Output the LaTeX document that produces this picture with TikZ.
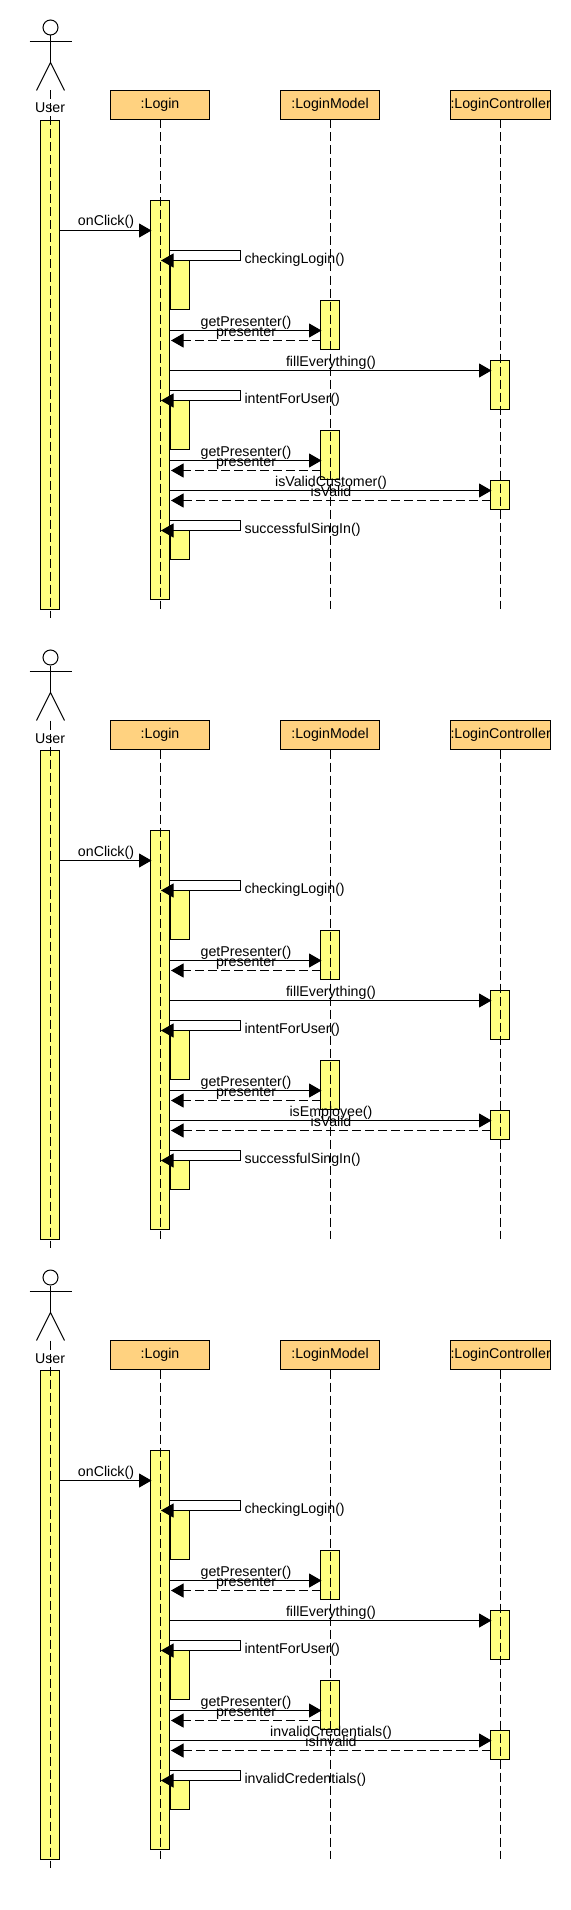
\documentclass[tikz,border=0pt]{standalone}
\usepackage{fontspec}
\setmainfont{Liberation Sans}
\usepackage{xcolor}
\usetikzlibrary{arrows.meta,positioning}
\definecolor{barfill}{HTML}{FFFF80}
\definecolor{headfill}{HTML}{FFD280}

\begin{document}
\begin{tikzpicture}[
  x=1pt, y=-1pt,
  font=\fontsize{14.2}{14.2}\selectfont,
  line width=1pt,
  headbox/.style={draw, fill=headfill, inner sep=0pt, outer sep=0pt,
                  minimum width=99pt, minimum height=29pt},
  bar/.style={draw, fill=barfill, inner sep=0pt, outer sep=0pt, minimum width=19pt},
  actorhead/.style={draw, circle, inner sep=0pt, minimum size=15pt},
  lifeline/.style={dash pattern=on 9pt off 4pt},
  msg/.style={-{Triangle[length=12.5pt,width=14pt]}, shorten >=-1pt},
  reply/.style={msg, dash pattern=on 9pt off 4pt, shorten >=1.5pt},
  msgtext/.style={midway, anchor=base, xshift=1pt, yshift=4.5pt, inner sep=0pt},
  selftext/.style={at end, anchor=base west, xshift=3.5pt, yshift=-12.5pt, inner sep=0pt},
  node distance=71pt
]
\useasboundingbox (0,0) rectangle (570,1910);

\foreach \d/\off/\askmsg/\replymsg/\lastmsg in {
    a/0/isValidCustomer()/isValid/successfulSingIn(),
    b/630/isEmployee()/isValid/successfulSingIn(),
    c/1250/invalidCredentials()/isInvalid/invalidCredentials()} {
\begin{scope}[shift={(0,\off)}]
% message levels
\foreach \n/\lvl in {click/230.5, getA/330.5, backA/340.5, fill/370.5,
                     getB/460.5, backB/470.5, ask/490.5, ans/500.5,
                     selfA/250.5, selfB/390.5, selfC/520.5}
  \coordinate (\d\n) at (0,\lvl);

% actor
\node[actorhead] (\d head) at (50.5,27.5) {};
\coordinate (\d hip) at (50.5,62.5);
\coordinate (\d armL) at (29.5,41.5);
\coordinate (\d armR) at (71.5,41.5);
\coordinate (\d footL) at (36.5,90.5);
\coordinate (\d footR) at (64.5,90.5);
\draw (\d head) -- (\d hip);
\draw (\d armL) -- (\d armR);
\draw (\d footL) -- (\d hip) -- (\d footR);
\node[anchor=base, inner sep=0pt] (\d user) at (50,113) {User};

% heads
\node[headbox] (\d login) at (160,105) {:Login};
\node[headbox, right=of \d login] (\d model) {:LoginModel};
\node[headbox, right=of \d model] (\d ctrl) {:LoginController};

% activation bars
\node[bar, minimum height=489pt] (\d userbar) at (50,365) {};
\node[bar, minimum height=399pt] (\d loginbar) at (160,400) {};
\node[bar, minimum height=49pt] (\d selfbarA) at (180,285) {};
\node[bar, minimum height=49pt] (\d selfbarB) at (180,425) {};
\node[bar, minimum height=29pt] (\d selfbarC) at (180,545) {};
\node[bar, minimum height=49pt] (\d modelbarA) at (330,325) {};
\node[bar, minimum height=49pt] (\d modelbarB) at (330,455) {};
\node[bar, minimum height=49pt] (\d ctrlbarA) at (500,385) {};
\node[bar, minimum height=29pt] (\d ctrlbarB) at (500,495) {};

% lifelines
\coordinate (\d userstart) at (50.5,90.5);
\coordinate (\d userend) at (50.5,618);
\coordinate (\d loginend) at (160.5,609);
\coordinate (\d modelend) at (330.5,609);
\coordinate (\d ctrlend) at (500.5,609);
\draw[lifeline] (\d userstart) -- (\d userend);
\draw[lifeline] (\d login.south -| \d loginend) -- (\d loginend);
\draw[lifeline] (\d model.south -| \d modelend) -- (\d modelend);
\draw[lifeline] (\d ctrl.south -| \d ctrlend) -- (\d ctrlend);

% messages
\draw[msg] (\d userbar.east |- \d click) -- (\d loginbar.west |- \d click)
  node[msgtext] (\d clicktext) {onClick()};
\draw[msg] (\d loginbar.east |- \d selfA) -- ++(71,0)
  node[selftext] (\d selftextA) {checkingLogin()}
  |- ([xshift=2pt]\d loginbar.center |- \d selfbarA.north);
\draw[msg] (\d loginbar.east |- \d getA) -- (\d modelbarA.west |- \d getA)
  node[msgtext] (\d gettextA) {getPresenter()};
\draw[reply] (\d modelbarA.west |- \d backA) -- (\d loginbar.east |- \d backA)
  node[msgtext] (\d backtextA) {presenter};
\draw[msg] (\d loginbar.east |- \d fill) -- (\d ctrlbarA.west |- \d fill)
  node[msgtext] (\d filltext) {fillEverything()};
\draw[msg] (\d loginbar.east |- \d selfB) -- ++(71,0)
  node[selftext] (\d selftextB) {intentForUser()}
  |- ([xshift=2pt]\d loginbar.center |- \d selfbarB.north);
\draw[msg] (\d loginbar.east |- \d getB) -- (\d modelbarB.west |- \d getB)
  node[msgtext] (\d gettextB) {getPresenter()};
\draw[reply] (\d modelbarB.west |- \d backB) -- (\d loginbar.east |- \d backB)
  node[msgtext] (\d backtextB) {presenter};
\draw[msg] (\d loginbar.east |- \d ask) -- (\d ctrlbarB.west |- \d ask)
  node[msgtext] (\d asktext) {\askmsg};
\draw[reply] (\d ctrlbarB.west |- \d ans) -- (\d loginbar.east |- \d ans)
  node[msgtext] (\d anstext) {\replymsg};
\draw[msg] (\d loginbar.east |- \d selfC) -- ++(71,0)
  node[selftext] (\d selftextC) {\lastmsg}
  |- ([xshift=2pt]\d loginbar.center |- \d selfbarC.north);
\end{scope}
}
\end{tikzpicture}
\end{document}
